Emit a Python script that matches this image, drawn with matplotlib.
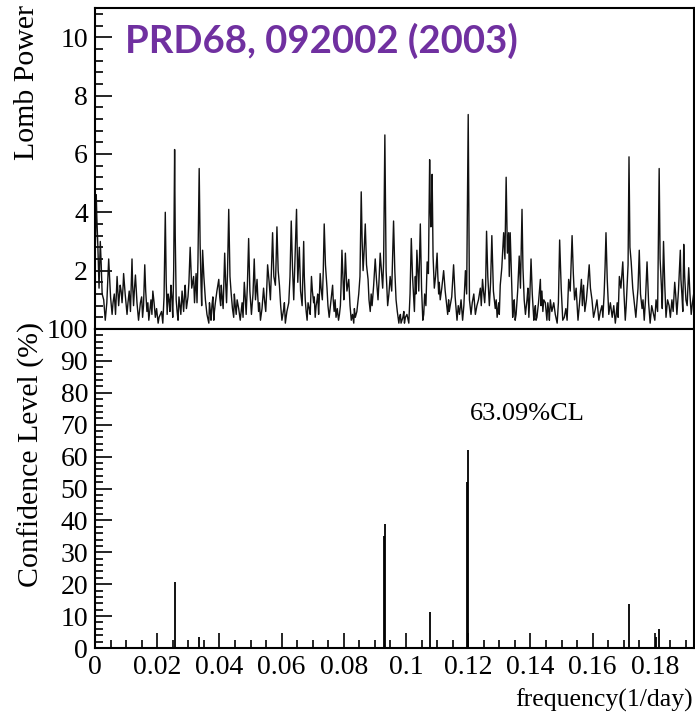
import matplotlib
matplotlib.use("Agg")
import matplotlib.pyplot as plt
from matplotlib.ticker import MultipleLocator, FuncFormatter

# Lomb periodogram (frequency in 1/day, power), main peaks and dips
freq = [
    0.0000, 0.0004, 0.0009, 0.0017, 0.0023, 0.0033, 0.0044, 0.0055, 0.0062, 0.0071,
    0.0081, 0.0087, 0.0092, 0.0103, 0.0110, 0.0119, 0.0124, 0.0130, 0.0140, 0.0146,
    0.0153, 0.0160, 0.0167, 0.0173, 0.0180, 0.0186, 0.0194, 0.0203, 0.0210, 0.0218,
    0.0226, 0.0232, 0.0238, 0.0244, 0.0250, 0.0256, 0.0261, 0.0267, 0.0273, 0.0280,
    0.0285, 0.0290, 0.0299, 0.0306, 0.0317, 0.0323, 0.0328, 0.0335, 0.0341, 0.0346,
    0.0355, 0.0366, 0.0371, 0.0376, 0.0382, 0.0387, 0.0398, 0.0404, 0.0408, 0.0417,
    0.0423, 0.0430, 0.0438, 0.0446, 0.0451, 0.0457, 0.0467, 0.0473, 0.0480, 0.0486,
    0.0494, 0.0503, 0.0512, 0.0521, 0.0526, 0.0532, 0.0542, 0.0549, 0.0555, 0.0564,
    0.0571, 0.0580, 0.0585, 0.0593, 0.0601, 0.0607, 0.0612, 0.0623, 0.0631, 0.0639,
    0.0648, 0.0657, 0.0666, 0.0671, 0.0676, 0.0682, 0.0689, 0.0696, 0.0703, 0.0708,
    0.0714, 0.0719, 0.0724, 0.0731, 0.0737, 0.0746, 0.0753, 0.0764, 0.0769, 0.0775,
    0.0783, 0.0789, 0.0794, 0.0800, 0.0805, 0.0816, 0.0824, 0.0832, 0.0837, 0.0848,
    0.0856, 0.0862, 0.0869, 0.0878, 0.0885, 0.0891, 0.0901, 0.0910, 0.0917, 0.0925,
    0.0932, 0.0941, 0.0949, 0.0960, 0.0968, 0.0977, 0.0982, 0.0987, 0.0993, 0.0998,
    0.1009, 0.1017, 0.1025, 0.1030, 0.1035, 0.1041, 0.1046, 0.1054, 0.1060, 0.1068,
    0.1076, 0.1080, 0.1084, 0.1091, 0.1100, 0.1105, 0.1110, 0.1121, 0.1132, 0.1137,
    0.1142, 0.1153, 0.1164, 0.1172, 0.1182, 0.1191, 0.1200, 0.1209, 0.1218, 0.1228,
    0.1239, 0.1246, 0.1253, 0.1259, 0.1268, 0.1276, 0.1287, 0.1293, 0.1298, 0.1303,
    0.1314, 0.1322, 0.1330, 0.1335, 0.1343, 0.1348, 0.1354, 0.1364, 0.1373, 0.1380,
    0.1389, 0.1395, 0.1402, 0.1411, 0.1416, 0.1421, 0.1432, 0.1437, 0.1443, 0.1453,
    0.1459, 0.1464, 0.1475, 0.1486, 0.1494, 0.1504, 0.1514, 0.1523, 0.1534, 0.1542,
    0.1553, 0.1564, 0.1571, 0.1580, 0.1589, 0.1598, 0.1609, 0.1620, 0.1630, 0.1637,
    0.1643, 0.1652, 0.1663, 0.1673, 0.1679, 0.1686, 0.1697, 0.1705, 0.1711, 0.1717,
    0.1724, 0.1735, 0.1743, 0.1750, 0.1759, 0.1766, 0.1775, 0.1785, 0.1796, 0.1804,
    0.1814, 0.1821, 0.1828, 0.1836, 0.1846, 0.1855, 0.1864, 0.1871, 0.1882, 0.1887,
    0.1893, 0.1900, 0.1909, 0.1917, 0.1925,
]
power = [
    2.5, 4.6, 2.9, 3.0, 1.2, 0.3, 2.4, 0.5, 1.2, 1.8,
    1.5, 0.9, 1.9, 0.5, 1.3, 2.4, 0.8, 1.85, 0.3, 0.9,
    0.4, 2.2, 0.6, 0.3, 1.0, 1.3, 0.4, 0.2, 0.5, 0.2,
    4.0, 0.5, 1.0, 1.5, 0.4, 6.15, 1.0, 0.3, 0.8, 1.3,
    0.6, 1.5, 1.1, 2.8, 1.8, 1.5, 0.9, 5.5, 1.5, 2.7,
    1.0, 0.2, 0.6, 0.8, 0.3, 0.9, 1.7, 0.8, 1.2, 2.6,
    0.9, 4.1, 1.2, 0.4, 0.8, 1.0, 0.3, 0.9, 1.6, 0.5,
    3.1, 0.5, 2.4, 1.7, 0.6, 0.3, 1.4, 0.6, 2.2, 1.0,
    3.3, 1.5, 3.5, 1.5, 0.3, 0.7, 0.2, 0.9, 3.7, 1.0,
    4.1, 2.8, 0.8, 3.0, 1.0, 0.3, 0.7, 1.8, 0.9, 0.4,
    1.0, 0.5, 1.9, 1.0, 3.6, 1.4, 0.4, 1.5, 0.6, 0.4,
    0.3, 0.8, 2.7, 1.0, 2.6, 1.7, 0.3, 0.2, 0.4, 1.2,
    4.7, 2.0, 3.6, 1.7, 0.6, 0.8, 2.4, 1.0, 2.6, 1.4,
    6.65, 0.8, 1.8, 3.7, 1.0, 0.2, 0.5, 0.3, 0.6, 0.4,
    0.2, 3.1, 1.0, 1.8, 2.7, 1.3, 3.6, 0.3, 1.2, 2.3,
    5.8, 3.5, 5.3, 1.4, 2.6, 1.2, 1.0, 2.0, 0.7, 1.0,
    0.8, 2.2, 0.3, 0.5, 0.3, 2.0, 7.35, 0.5, 1.2, 0.8,
    1.4, 1.7, 0.9, 3.35, 0.8, 3.2, 0.7, 0.4, 0.9, 1.5,
    3.3, 5.2, 3.3, 3.3, 0.4, 1.0, 0.5, 2.5, 4.1, 1.0,
    1.0, 0.4, 2.4, 0.3, 0.8, 0.4, 1.7, 1.3, 1.0, 0.3,
    0.6, 1.0, 0.9, 0.2, 3.05, 0.3, 0.7, 1.7, 3.2, 1.0,
    0.3, 1.7, 1.5, 1.0, 2.2, 1.0, 0.7, 0.3, 0.8, 1.2,
    3.3, 0.5, 0.4, 0.2, 0.9, 1.8, 2.3, 0.3, 1.5, 5.9,
    2.3, 0.8, 1.0, 2.7, 0.7, 0.3, 2.3, 0.2, 0.5, 1.0,
    5.5, 1.5, 3.0, 0.4, 0.8, 1.0, 1.6, 0.5, 2.7, 1.2,
    2.9, 1.0, 2.1, 0.5, 1.2,
]

# finer wiggles between the main readings (estimated from the dark band)
freq_fine = [
    0.0002, 0.0006, 0.0013, 0.0020, 0.0028, 0.0038, 0.0050, 0.0058, 0.0066, 0.0076,
    0.0084, 0.0090, 0.0097, 0.0106, 0.0114, 0.0121, 0.0127, 0.0135, 0.0143, 0.0150,
    0.0156, 0.0163, 0.0170, 0.0176, 0.0183, 0.0190, 0.0198, 0.0206, 0.0214, 0.0222,
    0.0229, 0.0235, 0.0241, 0.0247, 0.0253, 0.0258, 0.0264, 0.0270, 0.0276, 0.0282,
    0.0288, 0.0294, 0.0302, 0.0311, 0.0320, 0.0325, 0.0331, 0.0338, 0.0343, 0.0350,
    0.0360, 0.0368, 0.0373, 0.0379, 0.0384, 0.0392, 0.0401, 0.0406, 0.0412, 0.0420,
    0.0426, 0.0434, 0.0442, 0.0448, 0.0454, 0.0462, 0.0470, 0.0476, 0.0483, 0.0490,
    0.0498, 0.0508, 0.0516, 0.0523, 0.0529, 0.0537, 0.0545, 0.0552, 0.0560, 0.0567,
    0.0575, 0.0582, 0.0589, 0.0597, 0.0604, 0.0609, 0.0617, 0.0627, 0.0635, 0.0643,
    0.0652, 0.0661, 0.0668, 0.0673, 0.0679, 0.0685, 0.0692, 0.0699, 0.0705, 0.0711,
    0.0716, 0.0721, 0.0727, 0.0734, 0.0741, 0.0749, 0.0758, 0.0766, 0.0772, 0.0779,
    0.0786, 0.0791, 0.0797, 0.0802, 0.0810, 0.0820, 0.0828, 0.0834, 0.0842, 0.0852,
    0.0859, 0.0865, 0.0873, 0.0881, 0.0888, 0.0896, 0.0905, 0.0913, 0.0921, 0.0928,
    0.0936, 0.0945, 0.0954, 0.0964, 0.0972, 0.0979, 0.0984, 0.0990, 0.0995, 0.1003,
    0.1013, 0.1021, 0.1027, 0.1032, 0.1038, 0.1043, 0.1050, 0.1057, 0.1064, 0.1072,
    0.1078, 0.1082, 0.1087, 0.1095, 0.1102, 0.1107, 0.1115, 0.1126, 0.1134, 0.1139,
    0.1147, 0.1158, 0.1168, 0.1177, 0.1186, 0.1195, 0.1204, 0.1213, 0.1223, 0.1233,
    0.1242, 0.1249, 0.1256, 0.1263, 0.1272, 0.1281, 0.1290, 0.1295, 0.1300, 0.1308,
    0.1318, 0.1326, 0.1332, 0.1339, 0.1345, 0.1351, 0.1359, 0.1368, 0.1376, 0.1384,
    0.1392, 0.1398, 0.1406, 0.1413, 0.1418, 0.1426, 0.1434, 0.1440, 0.1448, 0.1456,
    0.1461, 0.1469, 0.1480, 0.1490, 0.1499, 0.1509, 0.1518, 0.1528, 0.1538, 0.1547,
    0.1558, 0.1567, 0.1575, 0.1584, 0.1593, 0.1603, 0.1614, 0.1625, 0.1633, 0.1640,
    0.1647, 0.1657, 0.1668, 0.1676, 0.1682, 0.1691, 0.1701, 0.1708, 0.1714, 0.1720,
    0.1729, 0.1739, 0.1746, 0.1754, 0.1762, 0.1770, 0.1780, 0.1790, 0.1800, 0.1809,
    0.1817, 0.1824, 0.1832, 0.1841, 0.1850, 0.1859, 0.1867, 0.1876, 0.1884, 0.1890,
    0.1896, 0.1904, 0.1913, 0.1921,
]
power_fine = [
    3.2, 3.8, 1.4, 2.2, 1.0, 0.9, 1.1, 0.9, 0.5, 0.8,
    1.3, 1.4, 1.2, 0.9, 0.6, 1.5, 1.4, 0.9, 0.6, 1.1,
    0.8, 1.3, 0.9, 0.6, 0.5, 0.9, 0.7, 0.4, 0.6, 1.1,
    1.6, 1.2, 0.6, 1.1, 2.0, 3.2, 0.6, 1.1, 0.5, 1.0,
    1.2, 0.7, 1.6, 1.4, 0.9, 1.9, 2.3, 2.9, 0.8, 1.8,
    0.5, 0.9, 0.3, 1.1, 0.6, 1.3, 1.1, 1.5, 0.7, 1.6,
    1.9, 1.8, 0.7, 1.2, 0.5, 0.7, 0.6, 0.4, 1.1, 1.5,
    1.3, 1.2, 1.0, 1.2, 0.9, 0.7, 1.0, 1.3, 1.6, 1.9,
    1.8, 2.2, 2.0, 0.8, 0.5, 0.9, 0.6, 1.8, 2.1, 2.4,
    1.6, 1.3, 1.7, 1.8, 0.6, 0.9, 0.5, 1.3, 1.1, 0.8,
    1.2, 1.0, 1.4, 2.0, 2.2, 0.8, 0.9, 1.0, 1.0, 0.7,
    0.5, 1.4, 1.8, 1.5, 1.3, 0.8, 0.5, 0.7, 0.6, 1.8,
    3.0, 2.6, 2.2, 1.0, 1.2, 1.5, 1.7, 1.6, 2.0, 2.3,
    2.0, 1.2, 1.3, 2.0, 0.6, 0.4, 0.2, 0.4, 0.2, 0.5,
    1.2, 1.8, 0.6, 1.2, 2.0, 2.2, 1.4, 0.5, 0.8, 1.9,
    4.2, 4.0, 2.5, 1.8, 1.9, 1.6, 1.4, 1.3, 0.5, 0.6,
    1.1, 1.1, 0.8, 1.0, 0.8, 1.2, 1.0, 0.9, 0.5, 1.0,
    0.8, 1.3, 1.5, 1.8, 1.6, 1.3, 1.0, 0.6, 0.5, 2.1,
    2.4, 2.6, 1.8, 1.9, 0.7, 0.3, 1.3, 1.4, 2.1, 0.5,
    1.4, 1.1, 1.2, 0.6, 0.3, 0.9, 0.8, 0.6, 0.9, 0.9,
    0.3, 0.6, 0.5, 0.9, 1.4, 0.4, 0.3, 1.3, 1.9, 1.4,
    0.9, 0.8, 0.6, 1.5, 1.4, 0.4, 1.0, 0.6, 0.4, 2.1,
    1.7, 0.9, 0.8, 0.5, 0.4, 1.4, 1.2, 0.8, 2.2, 2.8,
    1.4, 0.4, 1.4, 1.2, 1.0, 1.0, 0.9, 0.8, 0.3, 0.6,
    2.4, 0.7, 1.5, 1.0, 0.4, 0.6, 1.2, 1.3, 1.7, 0.6,
    1.8, 0.8, 1.2, 0.9,
]

# confidence level spikes
cl_freq = [0.0256, 0.0335, 0.0929, 0.0932, 0.1077, 0.1197, 0.1200, 0.1717, 0.1804, 0.1814]
cl_value = [20.6, 3.5, 35.0, 39.0, 11.2, 52.0, 62.0, 13.7, 3.5, 5.8]

spectrum = sorted(zip(freq + freq_fine, power + power_fine))
spec_f = [f for f, _ in spectrum]
spec_p = [p for _, p in spectrum]

W, H = 695, 717
fig = plt.figure(figsize=(W / 100, H / 100), dpi=100)
plt.rcParams["font.family"] = ["Liberation Serif", "DejaVu Serif"]

left, right = 95, 694
ax1 = fig.add_axes([left / W, 1 - 329 / H, (right - left) / W, (329 - 8) / H])
ax2 = fig.add_axes([left / W, 1 - 648 / H, (right - left) / W, (648 - 329) / H])

ax1.plot(spec_f, spec_p, color="#111111", lw=1.0)
ax2.vlines(cl_freq, 0, cl_value, color="black", lw=1.3)

for ax in (ax1, ax2):
    ax.set_xlim(0, 0.1926)
    for s in ax.spines.values():
        s.set_linewidth(1.5)
    ax.tick_params(which="both", direction="in", right=False, top=False,
                   labelsize=20, width=1.2, pad=5)
    ax.xaxis.set_major_locator(MultipleLocator(0.02))
    ax.xaxis.set_minor_locator(MultipleLocator(0.005))

ax1.set_ylim(0, 11.0)
ax1.set_yticks([0, 2, 4, 6, 8, 10])
ax1.set_yticklabels(["", "2", "4", "6", "8", "10"])
ax1.yaxis.set_minor_locator(MultipleLocator(0.4))
ax1.tick_params(axis="y", which="major", length=12)
ax1.tick_params(axis="y", which="minor", length=6)
ax1.tick_params(axis="x", which="both", bottom=False, labelbottom=False)

ax2.set_ylim(0, 100)
ax2.yaxis.set_major_locator(MultipleLocator(10))
ax2.yaxis.set_minor_locator(MultipleLocator(2))
ax2.tick_params(axis="y", which="major", length=12)
ax2.tick_params(axis="y", which="minor", length=6)
ax2.tick_params(axis="x", which="major", length=11)
ax2.tick_params(axis="x", which="minor", length=6)
ax2.xaxis.set_major_formatter(FuncFormatter(lambda v, p: f"{v:g}"))

ax2.text(0.1206, 73.4, "63.09%CL", fontsize=19, va="center", ha="left")

fig.text(27 / W, 1 - 5 / H, "Lomb Power", rotation=90, ha="center", va="top", fontsize=21.5)
fig.text(31 / W, 1 - 322 / H, "Confidence Level (%)", rotation=90, ha="center", va="top",
         fontsize=21.5)
fig.text(693 / W, 1 - 700 / H, "frequency(1/day)", ha="right", va="center", fontsize=18.5)

fig.text(125 / W, 1 - 41 / H, "PRD68, 092002 (2003)", ha="left", va="center",
         fontsize=27.5, fontweight="bold", color="#7030A0", family="Lato")

fig.savefig("out.png", dpi=100)
